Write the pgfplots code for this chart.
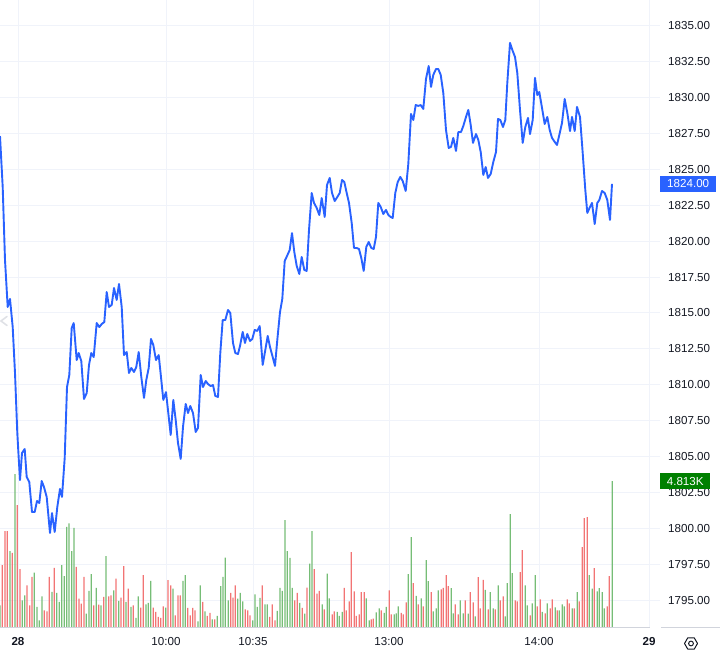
\documentclass[border=0pt]{standalone}
\usepackage{pgfplots}
\pgfplotsset{compat=1.18}
\usepackage{fontspec}
\setmainfont{Liberation Sans}
\definecolor{tvblue}{HTML}{2962FF}
\definecolor{volgreen}{HTML}{76BD76}
\definecolor{volred}{HTML}{F27474}
\definecolor{gridc}{HTML}{F0F3FA}
\definecolor{axisc}{HTML}{D1D4DC}
\definecolor{txt}{HTML}{131722}
\definecolor{boxgreen}{HTML}{008000}
\newcommand{\tvfont}{\fontsize{11.6}{13}\selectfont}
\begin{document}
\begin{tikzpicture}
\pgfplotsset{tvbase/.style={at={(0,0)}, anchor=south west, scale only axis,
  width=660pt, height=628pt, xmin=0, xmax=660}}
% --- price scale with grid and labels
\begin{axis}[tvbase, ymin=1793.05, ymax=1836.81,
  ytick={1795,1797.5,1800,1802.5,1805,1807.5,1810,1812.5,1815,1817.5,1820,1822.5,1825,1827.5,1830,1832.5,1835},
  xtick={18,166,253,389,539,649},
  xticklabels={\textbf{28},10:00,10:35,13:00,14:00,\textbf{29}},
  grid=major, grid style={gridc, line width=1pt},
  axis line style={draw=none}, tick style={draw=none},
  yticklabel pos=right,
  /pgf/number format/assume math mode=true,
  yticklabel style={/pgf/number format/.cd, fixed, fixed zerofill, precision=2, 1000 sep={}, assume math mode=true,
    /tikz/.cd, anchor=west, inner sep=0pt, xshift=8pt, font=\tvfont, text=txt},
  xticklabel style={anchor=base, inner sep=0pt, yshift=-18pt, font=\tvfont, text=txt},
]
\addplot[draw=none] coordinates {(0,1800)};
\end{axis}
% --- volume
\begin{axis}[tvbase, ymin=0, ymax=20570, hide axis]
\addplot[ybar, bar width=1.3, bar shift=0pt, fill=volgreen, draw=none] coordinates {
(0,744)(10,2516)(15,5043)(22.3,908)(24.7,1072)(34.3,1816)(37,689)(39.3,252)(42,1039)(52,1182)
(56.7,1149)(59.3,853)(61.7,2057)(64.3,1696)(66.7,3315)(69,3424)(71.7,2516)(74,3282)(86.3,470)(89,1214)
(91.3,1761)(96.3,1313)(101,744)(106,2352)(113.7,1236)(118.7,886)(126,853)(131,689)(136,328)(138.3,1039)
(146,777)(148.3,821)(150.7,1543)(165.7,667)(173,1291)(183,1543)(185.3,1729)(198,219)(200.3,1400)(205,547)
(212.3,284)(217.3,394)(220.7,1368)(223,1674)(225.3,2308)(228.3,908)(237.7,963)(240.3,1149)(242.7,875)(252.7,252)
(255,1105)(257.3,689)(260,985)(265,777)(267.3,777)(277.3,558)(280,1313)(282.3,1214)(285,3534)(287.3,2516)
(290,2297)(292.3,1313)(299.7,821)(304.7,470)(309.7,2111)(312,3173)
(322.3,777)(327.3,1783)(329.3,974)(337.3,525)(339.3,394)(342.3,525)(366.3,974)(369.3,252)(376.3,514)(379.3,645)
(384.3,492)(386.3,689)(394.3,449)(396.3,481)(398.3,711)(408.3,1761)(411.3,2976)(416.3,1050)(421.3,974)(426.3,2221)
(428.3,1532)(433.3,547)(436.3,645)(438.3,1236)(451.3,1302)(453.3,481)(460.3,908)(463.3,481)(468.3,470)(475.3,383)
(485.3,1247)(490.3,1171)(493.3,645)(498.3,1400)(505.3,383)(507.3,1466)(510.3,3731)(512.3,1794)(525.3,1400)(527.3,744)
(532.3,810)(535.3,1729)(542.3,525)(547.3,810)(555.3,678)(559.3,580)(562.3,777)(564.3,711)(572.3,645)(577.3,1171)
(589.3,1729)(592.3,1291)(597.3,1203)(599.3,1302)(602.3,1171)(604.3,645)(612.3,4813)};
\addplot[ybar, bar width=1.3, bar shift=0pt, fill=volred, draw=none] coordinates {
(2.3,2057)(5,3173)(7.3,3173)(12.3,2462)(17.3,4026)(20,1925)(27,1400)(29.7,744)(32,1674)(44.3,580)
(47,547)(49.3,1674)(54.3,1969)(76.3,2002)(79,963)(81.3,799)(84,1674)(93.7,744)(98.7,766)(103.7,1017)
(108.7,1039)(111,1072)(116,1619)(121,996)(123.7,2024)(128.3,1291)(133.3,744)(140.7,667)(143.3,1729)(153.3,667)
(155.7,525)(158.3,361)(160.7,328)(163.3,711)(168,1564)(170.7,1400)(175.3,416)(178,1072)(180.3,1072)(187.7,656)
(190.3,416)(192.7,656)(195,580)(202.7,853)(207.3,394)(210,492)(214.7,284)(230.7,1149)(233,996)(235.3,1400)
(245.3,613)(247.7,580)(250,416)(262.3,1400)(269.7,361)(272.3,777)(275,252)(294.7,908)(297.3,1149)(302.3,656)
(307,1324)(314.3,1925)(317,1127)(319.3,1214)
(324.3,613)(332.3,449)(334.3,547)(344.3,1313)(346.3,580)(349.3,875)(351.3,2483)(354.3,1203)(356.3,394)(359.3,449)
(361.3,1171)(364.3,1171)(371.3,284)(373.3,306)(381.3,580)(389.3,1236)(391.3,449)(401.3,492)(403.3,449)(406.3,842)
(413.3,1466)(418.3,777)(423.3,711)(431.3,1171)(441.3,1269)(443.3,1313)(446.3,1729)(448.3,1368)(455.3,777)(458.3,449)
(465.3,908)(470.3,1171)(473.3,842)(478.3,1663)(480.3,645)(483.3,1575)(488.3,613)(495.3,613)(500.3,908)(503.3,1039)
(515.3,908)(517.3,875)(520.3,1827)(522.3,2549)(530.3,416)(537.3,711)(540.3,941)(545.3,481)(550.3,645)(552.3,941)
(557.3,580)(567.3,941)(569.3,810)(574.3,645)(579.3,875)(582.3,2648)(584.3,3599)(587.3,3632)(594.3,1958)(607.3,711)
(609.3,1696)};
\coordinate (lastv) at (axis cs:612.3,4813);
\end{axis}
% --- price line
\begin{axis}[tvbase, ymin=1793.05, ymax=1836.81, hide axis]
\addplot[tvblue, line width=1.9pt, line join=round] coordinates {
(0,1827.33)(2.7,1823.78)(5,1818.69)(7.7,1815.42)(10,1815.98)(12.7,1814.02)(15,1810.82)(17.3,1806.64)(18.7,1804.90)(20,1803.36)
(22,1805.24)(24.7,1805.52)(26.7,1803.57)(29.3,1803.22)(32,1801.13)(34.7,1801.13)(37,1801.90)(39.3,1801.76)(41.7,1803.29)(44,1802.87)
(46.7,1802.18)(50,1799.67)(52,1801.06)(54.7,1799.74)(57.3,1801.48)(60,1802.74)(62,1802.18)(64.7,1804.90)(67,1809.84)(69.3,1810.68)
(71.7,1813.95)(73.7,1814.30)(76.7,1811.72)(78.7,1812.21)(81.3,1811.65)(84,1809.01)(86.7,1809.42)(89,1811.38)(91.3,1812.21)(93.7,1811.93)
(96.7,1814.30)(99.3,1814.02)(101.7,1814.23)(104.3,1814.37)(106.7,1816.46)(109,1815.42)(111.7,1815.56)(114,1816.74)(116.7,1815.91)(119,1817.02)
(121.7,1815.42)(124,1812.07)(126.7,1812.28)(129,1810.82)(131.3,1811.17)(134,1810.89)(136.3,1811.24)(138.7,1812.28)(141.3,1810.54)(144,1809.08)
(146.3,1810.33)(148.7,1811.17)(151,1813.19)(153.3,1812.77)(156,1811.72)(158.7,1812.07)(161.3,1810.33)(163.3,1808.94)(166,1809.49)(168.3,1808.03)
(170.7,1806.50)(173.3,1808.94)(175.7,1807.54)(178,1805.94)(180.7,1804.83)(183,1807.06)(185.7,1808.66)(188,1808.03)(190.3,1808.52)(193,1808.03)
(195.7,1806.71)(198,1806.99)(200.7,1810.68)(203,1809.84)(205.7,1810.26)(208,1810.05)(210.7,1809.91)(213,1809.98)(215.3,1809.22)(218,1809.15)
(220.3,1812.21)(222.7,1814.51)(225.3,1814.51)(228,1815.21)(230.3,1815.00)(233,1812.91)(235.3,1812.21)(238,1812.14)(240,1812.70)(242.7,1813.68)
(245,1812.91)(247.3,1813.54)(250,1813.05)(252.3,1813.19)(254.7,1813.82)(257.3,1813.75)(259.7,1814.09)(262.7,1811.38)(265.3,1812.42)(267.7,1813.40)
(270,1812.63)(272.7,1811.93)(275,1811.31)(277.3,1813.12)(280,1815.07)(282.3,1815.98)(284.7,1818.62)(287,1818.97)(289.7,1819.39)(292,1820.57)
(294.3,1819.25)(296.7,1818.28)(299.3,1817.72)(301.7,1818.90)(304.3,1818.00)(306.7,1817.93)(309,1820.78)(311.7,1823.36)(314,1822.67)(316.7,1822.32)
(319.3,1821.83)(321.7,1823.01)(324.7,1821.69)(327,1823.92)(329.7,1824.41)(332,1823.36)(334.7,1822.80)(337.3,1823.08)(339.7,1823.36)(342,1824.27)
(344.3,1824.13)(346.7,1823.36)(349,1822.67)(351.7,1821.27)(354,1819.53)(356.7,1819.53)(359,1819.46)(361.3,1818.83)(363.7,1817.93)(366.3,1819.60)
(368.7,1819.95)(371.3,1819.53)(373.7,1819.46)(376,1820.30)(378.3,1822.67)(380.7,1822.39)(383.3,1821.90)(386,1822.18)(388.3,1821.83)(390.7,1821.69)
(392.7,1821.62)(395.3,1823.36)(397.7,1824.13)(400.3,1824.48)(402.7,1824.20)(405.7,1823.50)(408.3,1825.38)(411,1828.87)(413.3,1828.45)(415.7,1829.49)
(418.3,1829.43)(420.7,1829.49)(423.3,1829.22)(426,1831.31)(428.7,1832.21)(431,1830.75)(433.3,1831.59)(436,1832.00)(438.3,1832.00)(440.7,1831.59)
(443.3,1830.33)(446,1827.75)(448.7,1826.50)(451,1826.57)(453.3,1827.20)(456,1826.29)(458.3,1827.61)(461,1827.61)(463.3,1828.03)(466,1828.66)
(468.3,1829.15)(470.7,1828.10)(473,1826.85)(476,1827.47)(478.3,1827.06)(480.7,1826.22)(483.3,1824.62)(485.7,1825.17)(488,1824.41)(490.7,1824.69)
(493.3,1825.52)(496,1826.22)(498,1828.52)(500.3,1828.45)(503,1827.96)(505.3,1828.45)(507.3,1831.03)(510,1833.82)(512.7,1833.26)(515,1832.84)
(517.3,1831.72)(520,1829.15)(522.7,1826.85)(525.3,1827.96)(528,1828.59)(530,1827.47)(532.7,1828.45)(535,1831.38)(537.3,1830.19)(539.3,1830.40)
(542,1829.29)(544.7,1828.17)(547.3,1828.66)(549.7,1827.75)(552,1827.20)(554.7,1826.92)(557,1826.71)(559.3,1827.40)(562,1828.24)(564.7,1829.91)
(567.3,1828.94)(570,1827.68)(572,1828.66)(574.7,1827.68)(577,1829.36)(580,1828.66)(582.7,1826.15)(585.3,1823.57)(587.3,1821.97)(590,1822.39)
(592,1822.67)(594.7,1821.20)(597.3,1822.67)(599.3,1822.87)(602,1823.50)(604.7,1823.36)(607.3,1822.87)(610,1821.48)(612,1824.00)};
\coordinate (lastp) at (axis cs:612,1824);
\end{axis}
% --- decorations
\draw[axisc, line width=1pt] (0,0) -- (650pt,0);
\draw[axisc, line width=1pt] (661pt,0) -- (720pt,0);
\coordinate (R) at (660pt,0);
\node[anchor=west, fill=tvblue, text=white, font=\tvfont, inner sep=0pt,
  minimum width=56pt, minimum height=16pt] at (R |- lastp) {1824.00};
\node[anchor=west, fill=boxgreen, text=white, font=\tvfont, inner sep=0pt,
  minimum width=50pt, minimum height=16pt] at (R |- lastv) {4.813K};
\draw[txt, line width=1pt, line join=round, shift={(691pt,-15.5pt)}]
  (0:6.5pt) -- (60:6.5pt) -- (120:6.5pt) -- (180:6.5pt) -- (240:6.5pt) -- (300:6.5pt) -- cycle;
\draw[txt, line width=1pt] (691pt,-15.5pt) circle (2.4pt);
\draw[color=axisc!70, line width=1.6pt, line cap=round] (7pt,302.5pt) -- (1pt,307pt) -- (7pt,311.5pt);
\pgfresetboundingbox
\useasboundingbox (0,-24pt) rectangle (720pt,628pt);
\end{tikzpicture}
\end{document}
